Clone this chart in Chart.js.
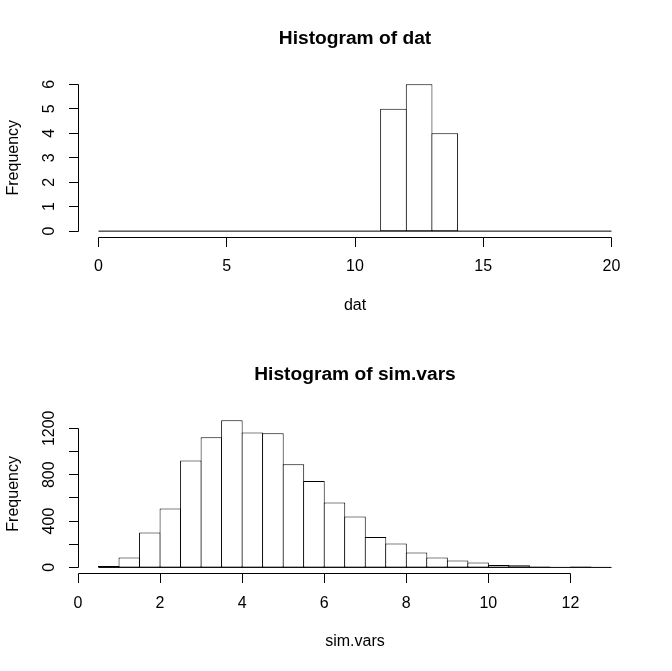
<!DOCTYPE html>
<html>
<head>
<meta charset="utf-8">
<script src="https://cdn.jsdelivr.net/npm/chart.js@4"></script>
<style>
  html, body { margin: 0; padding: 0; background: #fff; overflow: hidden; }
  canvas { position: absolute; left: 0; }
</style>
</head>
<body>
<canvas id="datChart" width="672" height="336" style="top:0"></canvas>
<canvas id="simChart" width="672" height="335" style="top:336px"></canvas>
<script>
// Histogram of dat
const datBreaks = [0, 1, 2, 3, 4, 5, 6, 7, 8, 9, 10, 11, 12, 13, 14, 15, 16, 17, 18, 19, 20];
const datCounts = [0, 0, 0, 0, 0, 0, 0, 0, 0, 0, 0, 5, 6, 4, 0, 0, 0, 0, 0, 0];
const datXTicks = [0, 5, 10, 15, 20];
const datYTicks = [0, 1, 2, 3, 4, 5, 6];
const datYLabels = ['0', '1', '2', '3', '4', '5', '6'];

// Histogram of sim.vars
const simBreaks = [0.5, 1, 1.5, 2, 2.5, 3, 3.5, 4, 4.5, 5, 5.5, 6, 6.5, 7, 7.5, 8, 8.5, 9, 9.5, 10, 10.5, 11, 11.5, 12, 12.5, 13];
const simCounts = [12, 86, 302, 509, 923, 1122, 1269, 1165, 1157, 889, 745, 561, 440, 262, 207, 129, 86, 60, 43, 20, 18, 8, 0, 7, 1];
const simXTicks = [0, 2, 4, 6, 8, 10, 12];
const simYTicks = [0, 200, 400, 600, 800, 1000, 1200];
const simYLabels = ['0', '', '400', '', '800', '', '1200'];

const FONT = '"Liberation Sans", Arial, sans-serif';
const PAD_LEFT = 78, PAD_RIGHT = 40;
const TICK_LEN = 9.5;

Chart.defaults.font.family = FONT;
Chart.defaults.color = '#000';

// axes drawn the way R does it: line only between first and last tick, y labels turned
const rAxes = {
  id: 'rAxes',
  afterDraw(chart, args, opts) {
    const ctx = chart.ctx;
    const area = chart.chartArea;
    const xs = chart.scales.x, ys = chart.scales.y;
    const snap = v => Math.round(v - 0.5) + 0.5;

    ctx.save();
    ctx.strokeStyle = '#000';
    ctx.fillStyle = '#000';
    ctx.lineWidth = 1;
    ctx.font = '16px ' + FONT;
    ctx.textAlign = 'center';
    ctx.textBaseline = 'middle';

    // x axis
    const ay = snap(area.bottom);
    const xp = opts.xTicks.map(v => snap(xs.getPixelForValue(v)));
    ctx.beginPath();
    ctx.moveTo(xp[0], ay);
    ctx.lineTo(xp[xp.length - 1], ay);
    xp.forEach(px => { ctx.moveTo(px, ay); ctx.lineTo(px, ay + TICK_LEN); });
    ctx.stroke();
    opts.xTicks.forEach((v, i) => ctx.fillText(String(v), xs.getPixelForValue(v), area.bottom + 30));

    // y axis
    const ax = snap(area.left);
    const yp = opts.yTicks.map(v => snap(ys.getPixelForValue(v)));
    ctx.beginPath();
    ctx.moveTo(ax, yp[0]);
    ctx.lineTo(ax, yp[yp.length - 1]);
    yp.forEach(py => { ctx.moveTo(ax, py); ctx.lineTo(ax - TICK_LEN, py); });
    ctx.stroke();
    opts.yTicks.forEach((v, i) => {
      if (!opts.yLabels[i]) return;
      ctx.save();
      ctx.translate(area.left - 28, ys.getPixelForValue(v));
      ctx.rotate(-Math.PI / 2);
      ctx.fillText(opts.yLabels[i], 0, 0);
      ctx.restore();
    });

    // axis titles
    ctx.fillText(opts.xTitle, (area.left + area.right) / 2, area.bottom + 68.5);
    ctx.save();
    ctx.translate(13.5, (area.top + area.bottom) / 2);
    ctx.rotate(-Math.PI / 2);
    ctx.fillText(opts.yTitle, 0, 0);
    ctx.restore();

    ctx.restore();
  }
};

function makeHist(id, title, breaks, counts, xTicks, yTicks, yLabels, xTitle, padBottom) {
  const first = breaks[0], last = breaks[breaks.length - 1];
  const xMin = first - 0.04 * (last - first);
  const xMax = last + 0.04 * (last - first);
  const top = Math.max(...counts);
  const binPx = (672 - PAD_LEFT - PAD_RIGHT) / (xMax - xMin) * (breaks[1] - breaks[0]);

  const bars = counts.map((c, i) => ({ x: (breaks[i] + breaks[i + 1]) / 2, y: c }));

  return new Chart(document.getElementById(id), {
    type: 'bar',
    data: {
      datasets: [{
        type: 'line',
        data: [{ x: first, y: 0 }, { x: last, y: 0 }],
        borderColor: '#000',
        borderWidth: 1,
        pointRadius: 0
      }, {
        data: bars,
        backgroundColor: '#fff',
        borderColor: '#000',
        borderWidth: 1,
        borderSkipped: false,
        inflateAmount: 0,
        barThickness: binPx + 1
      }]
    },
    options: {
      responsive: false,
      animation: false,
      devicePixelRatio: 1,
      layout: { padding: { left: PAD_LEFT, right: PAD_RIGHT, top: 0, bottom: padBottom } },
      plugins: {
        legend: { display: false },
        tooltip: { enabled: false },
        title: {
          display: true,
          text: title,
          fullSize: false,
          color: '#000',
          font: { size: 19.2, weight: 'bold' },
          padding: { top: 27, bottom: 28.4 }
        },
        rAxes: { xTicks: xTicks, yTicks: yTicks, yLabels: yLabels, xTitle: xTitle, yTitle: 'Frequency' }
      },
      scales: {
        x: {
          type: 'linear',
          display: false,
          offset: false,
          min: xMin,
          max: xMax,
          afterBuildTicks: s => { s.ticks = xTicks.map(v => ({ value: v })); }
        },
        y: {
          display: false,
          min: -0.04 * top,
          max: 1.04 * top
        }
      }
    },
    plugins: [rAxes]
  });
}

makeHist('datChart', 'Histogram of dat', datBreaks, datCounts, datXTicks, datYTicks, datYLabels, 'dat', 99);
makeHist('simChart', 'Histogram of sim.vars', simBreaks, simCounts, simXTicks, simYTicks, simYLabels, 'sim.vars', 97.7);
</script>
</body>
</html>
